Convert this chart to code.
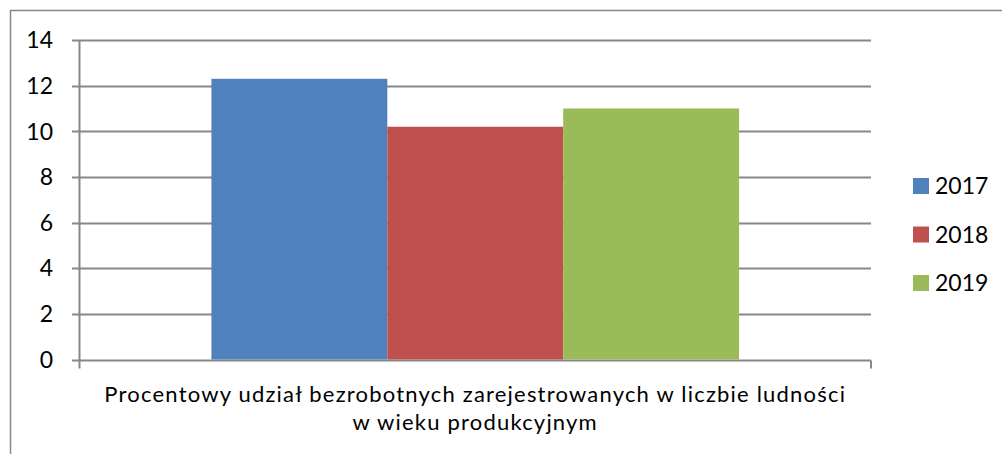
<!DOCTYPE html>
<html>
<head>
<meta charset="utf-8">
<script src="https://cdn.jsdelivr.net/npm/d3@7"></script>
<style>
  body { margin: 0; background: #fff; }
  text { font-family: Lato, "Open Sans", sans-serif; fill: #000; }
</style>
</head>
<body>
<div id="chart"></div>
<script>
// データ
var category = ["Procentowy udział bezrobotnych zarejestrowanych w liczbie ludności", "w wieku produkcyjnym"];
var years = ["2017", "2018", "2019"];
var values = [12.3, 10.2, 11.0];
var colors = ["#4f81bd", "#c0504d", "#9bbb59"];
var yTicks = [0, 2, 4, 6, 8, 10, 12, 14];

var width = 1002,
  height = 454;
var padding = { top: 40, right: 131, bottom: 94.5, left: 79.5 };

var svg = d3
  .select("#chart")
  .append("svg")
  .attr("width", width)
  .attr("height", height);

// 外枠
svg
  .append("rect")
  .attr("x", 10.5)
  .attr("y", 10.5)
  .attr("width", 1000)
  .attr("height", 460)
  .attr("fill", "none")
  .attr("stroke", "#888")
  .attr("stroke-width", 1.5);

var yScale = d3
  .scaleLinear()
  .domain([0, 14])
  .range([height - padding.bottom, padding.top]);

// カテゴリー1つ、棒は3本（間隔150%）
var xOuter = d3
  .scaleBand()
  .domain(["cat"])
  .range([padding.left, width - padding.right])
  .paddingInner(0)
  .paddingOuter(0);
var catW = xOuter.bandwidth();
var barW = catW / 4.5;
var xBar = d3
  .scaleBand()
  .domain(years)
  .range([xOuter("cat") + barW * 0.75, xOuter("cat") + catW - barW * 0.75]);

// グリッド線
svg
  .append("g")
  .selectAll("line")
  .data(yTicks)
  .enter()
  .append("line")
  .attr("x1", padding.left - 7.5)
  .attr("x2", width - padding.right)
  .attr("y1", function (d) { return Math.round(yScale(d)) + 0.5; })
  .attr("y2", function (d) { return Math.round(yScale(d)) + 0.5; })
  .attr("stroke", "#888")
  .attr("stroke-width", 2);

// Y軸ラベル
svg
  .append("g")
  .selectAll("text")
  .data(yTicks)
  .enter()
  .append("text")
  .attr("x", 53)
  .attr("y", function (d) { return yScale(d); })
  .attr("dy", "0.36em")
  .attr("text-anchor", "end")
  .style("font-size", "23px")
  .text(function (d) { return d; });

// 棒
svg
  .append("g")
  .selectAll("rect")
  .data(values)
  .enter()
  .append("rect")
  .attr("x", function (d, i) { return xBar(years[i]); })
  .attr("y", function (d) { return yScale(d); })
  .attr("width", xBar.bandwidth())
  .attr("height", function (d) { return yScale(0) - yScale(d); })
  .attr("fill", function (d, i) { return colors[i]; });

// 軸線
var y0 = Math.round(yScale(0)) + 0.5;
svg
  .append("line")
  .attr("x1", padding.left)
  .attr("x2", padding.left)
  .attr("y1", padding.top)
  .attr("y2", y0 + 8)
  .attr("stroke", "#888")
  .attr("stroke-width", 2);
svg
  .append("line")
  .attr("x1", width - padding.right)
  .attr("x2", width - padding.right)
  .attr("y1", y0)
  .attr("y2", y0 + 8)
  .attr("stroke", "#888")
  .attr("stroke-width", 2);

// X軸ラベル（幅を合わせるため字間を少し広げる）
svg
  .append("g")
  .selectAll("text")
  .data(category)
  .enter()
  .append("text")
  .attr("x", xOuter("cat") + catW / 2)
  .attr("y", function (d, i) { return 401.5 + i * 28; })
  .attr("text-anchor", "middle")
  .style("font-size", "22px")
  .style("letter-spacing", "1.2px")
  .text(function (d) { return d; });

// 凡例
var legend = svg
  .append("g")
  .selectAll("g")
  .data(years)
  .enter()
  .append("g")
  .attr("transform", function (d, i) { return "translate(913," + (186 + i * 48.5) + ")"; });
legend
  .append("rect")
  .attr("x", 0)
  .attr("y", -8)
  .attr("width", 16)
  .attr("height", 16)
  .attr("fill", function (d, i) { return colors[i]; });
legend
  .append("text")
  .attr("x", 22)
  .attr("dy", "0.36em")
  .style("font-size", "23px")
  .text(function (d) { return d; });
</script>
</body>
</html>
